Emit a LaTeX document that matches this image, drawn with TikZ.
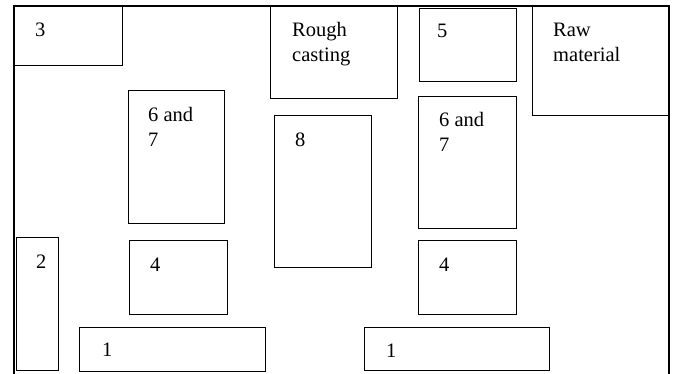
\documentclass[tikz,border=0pt]{standalone}
\usepackage{fontspec}
\setmainfont{Liberation Serif}
\begin{document}
\begin{tikzpicture}[x=1pt,y=-1pt,
  box/.style={draw, line width=1.3pt, inner sep=0pt, anchor=north west},
  lbl/.style={anchor=base west, inner sep=0pt, font=\fontsize{20.5}{24.5}\selectfont}]
\useasboundingbox (0,0) rectangle (673,374);
% frame
\coordinate (fbl) at (14,374);
\coordinate (ftl) at (14,6);
\coordinate (ftr) at (669,6);
\coordinate (fbr) at (669,374);
\draw[line width=1.3pt] (fbl) -- (ftl) -- (ftr) -- (fbr);
% boxes
\node[box, minimum width=108pt, minimum height=59pt] (b3) at (14,6) {};
\node[box, minimum width=127pt, minimum height=92pt] (brough) at (270,6) {};
\node[box, minimum width=97pt, minimum height=73pt] (b5) at (419,8) {};
\node[box, minimum width=136pt, minimum height=109pt] (braw) at (532,6) {};
\node[box, minimum width=96pt, minimum height=133pt] (b67l) at (128,90) {};
\node[box, minimum width=98pt, minimum height=132pt] (b67r) at (418,96) {};
\node[box, minimum width=97pt, minimum height=152pt] (b8) at (274,115) {};
\node[box, minimum width=98pt, minimum height=74pt] (b4r) at (418,240) {};
\node[box, minimum width=185pt, minimum height=43pt] (b1r) at (364,327) {};
\node[box, minimum width=42pt, minimum height=133pt] (b2) at (16,237) {};
\node[box, minimum width=98pt, minimum height=74pt] (b4l) at (129,240) {};
\node[box, minimum width=186pt, minimum height=44pt] (b1l) at (79,327) {};
% labels
\node[lbl] (t3) at (35,37) {3};
\node[lbl] (trough1) at (292,37) {Rough};
\node[lbl] (trough2) at (292,62) {casting};
\node[lbl] (t5) at (437,38) {5};
\node[lbl] (traw1) at (553,37) {Raw};
\node[lbl] (traw2) at (553,62) {material};
\node[lbl] (t67la) at (148,122) {6 and};
\node[lbl] (t67lb) at (148,147) {7};
\node[lbl] (t67ra) at (439,127) {6 and};
\node[lbl] (t67rb) at (439,152) {7};
\node[lbl] (t8) at (295,147) {8};
\node[lbl] (t4r) at (439,272) {4};
\node[lbl] (t1r) at (386,358) {1};
\node[lbl] (t2) at (36,269) {2};
\node[lbl] (t4l) at (150,272) {4};
\node[lbl] (t1l) at (102,357) {1};
\end{tikzpicture}
\end{document}
